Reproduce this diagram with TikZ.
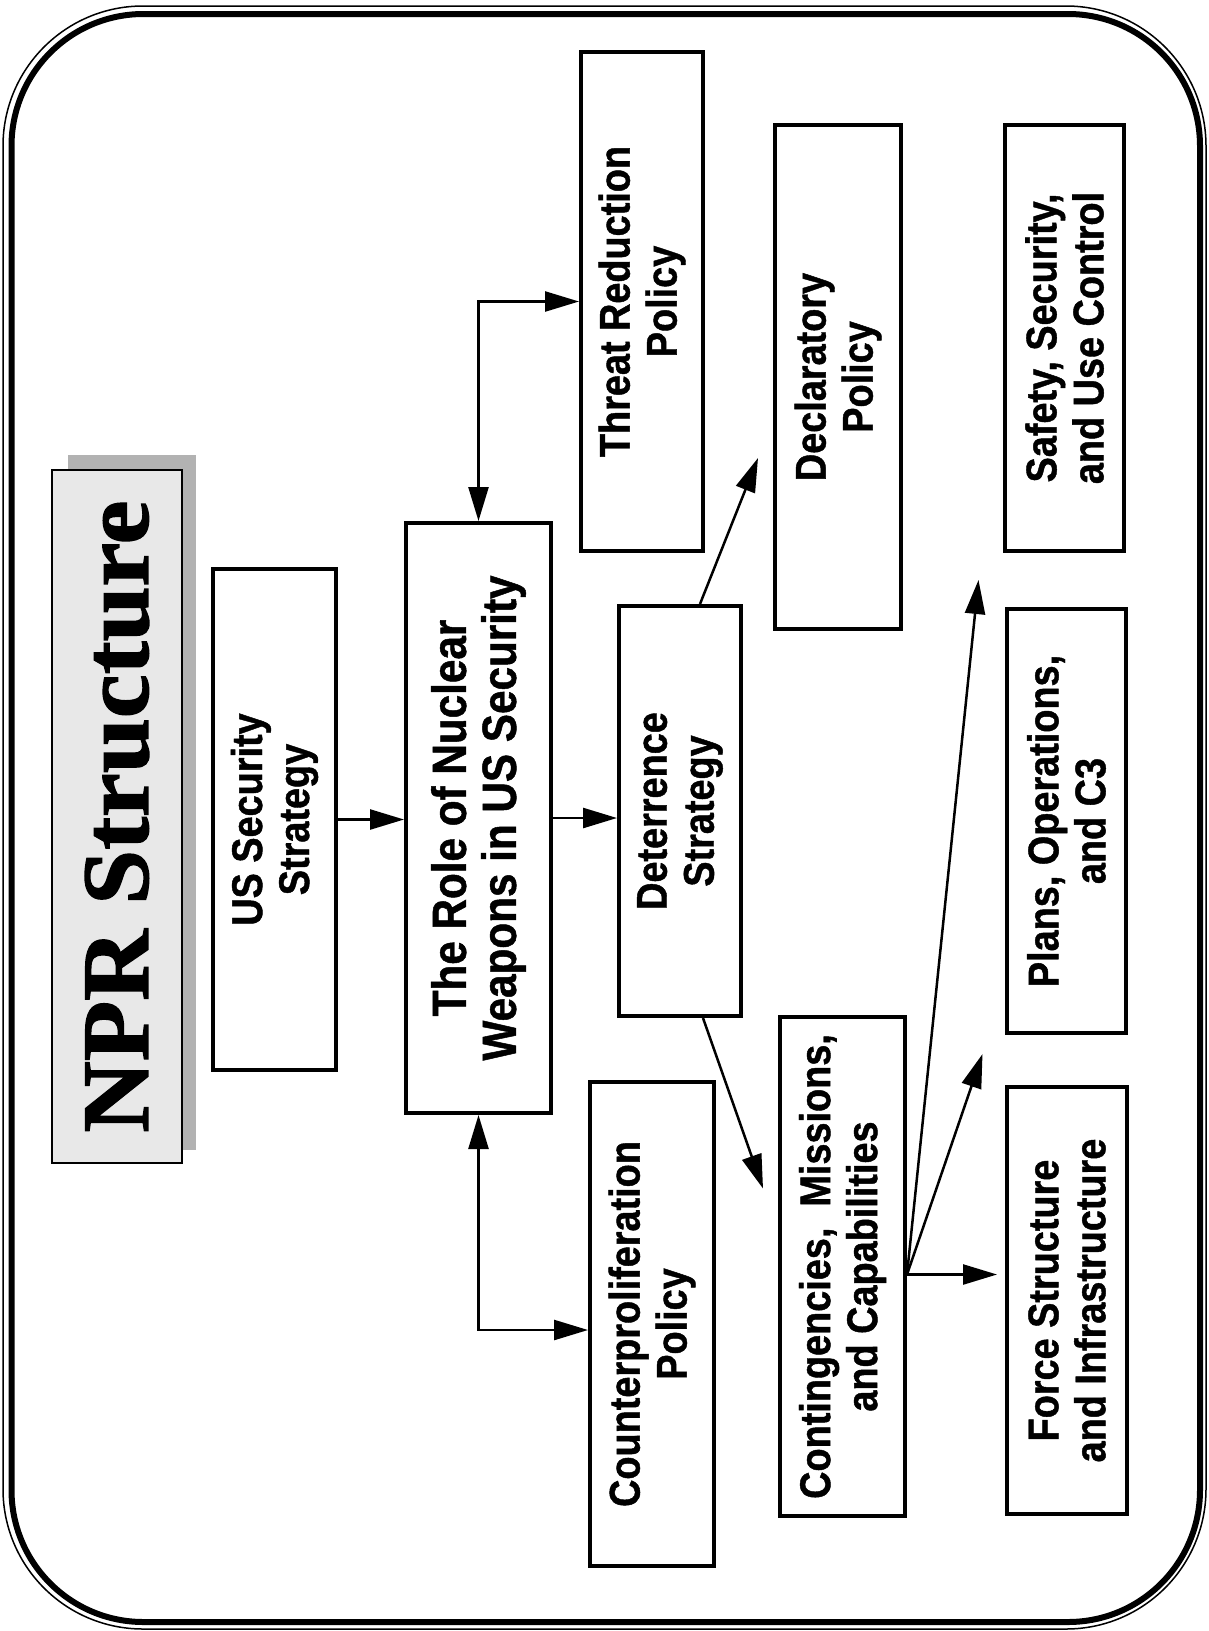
\documentclass[tikz,border=0pt]{standalone}
\usepackage{fontspec}
\newfontfamily\boxfont{Liberation Sans Bold}[FakeStretch=0.88,FakeBold=1]
\newfontfamily\titlefont{Liberation Serif Bold}[FakeStretch=1.04,FakeBold=1.5]
\usetikzlibrary{arrows.meta}

\begin{document}
\begin{tikzpicture}[x=1pt,y=-1pt,
		box/.style={draw,line width=4pt,fill=white,rotate=90,align=center,inner sep=0pt,
			font=\boxfont\fontsize{43}{47}\selectfont},
		arr/.style={line width=2.5pt,-{Triangle[length=34pt,width=20pt]}},
		darr/.style={line width=2.5pt,{Triangle[length=34pt,width=20pt]}-{Triangle[length=34pt,width=20pt]}}]
				\useasboundingbox (0,0) rectangle (1208,1631);
				% frame
				\draw[line width=1.5pt,rounded corners=140pt] (3,6) rectangle (1206,1629);
				\draw[line width=6pt,rounded corners=132pt] (11.5,14) rectangle (1200,1622);

				% title
				\node[fill=gray!60,rotate=90,minimum width=695pt,minimum height=128pt] (tshadow) at (132,802) {};
				\node[draw,line width=1.5pt,fill=gray!18,rotate=90,minimum width=693pt,minimum height=130pt,
					font=\titlefont\fontsize{95}{100}\selectfont] (title) at (117,816.5) {NPR Structure};

				\node[box,minimum width=501pt,minimum height=123pt] (uss) at (274.5,819.5) {US Security\\Strategy};
				\node[box,minimum width=590pt,minimum height=145pt,font=\boxfont\fontsize{48}{50}\selectfont] (role) at (478.5,818) {The Role of Nuclear\\Weapons in US Security};
				\node[box,minimum width=499pt,minimum height=122pt] (threat) at (642,301.5) {Threat Reduction\\Policy};
				\node[box,minimum width=484pt,minimum height=124pt] (counter) at (652,1324) {Counterproliferation\\Policy};
				\node[box,minimum width=410pt,minimum height=122pt] (deter) at (680,811) {Deterrence\\Strategy};
				\node[box,minimum width=504pt,minimum height=126pt] (decl) at (838,377) {Declaratory\\Policy};
				\node[box,minimum width=499pt,minimum height=125pt] (cont) at (842.5,1266.5) {Contingencies,\ \ Missions,\\and Capabilities};
				\node[box,minimum width=426pt,minimum height=119pt] (safety) at (1064.5,338) {Safety,\ Security,\\and Use Control};
				\node[box,minimum width=424pt,minimum height=119pt] (plans) at (1066.5,821) {Plans, Operations,\\and C3};
				\node[box,minimum width=427pt,minimum height=120pt] (force) at (1067,1300.5) {Force Structure\\and Infrastructure};

				\draw[arr] (uss.south) -- (uss.south -| role.north);
				\draw[arr] (role.south) -- (role.south -| deter.north);
				\draw[darr] (role.east) |- (threat.north);
				\draw[darr] (role.west) |- ([yshift=-6pt]counter.north);
				\draw[arr] ([xshift=20pt]deter.east) -- ([xshift=-15pt,yshift=-81pt]decl.north);
				\draw[arr] ([xshift=23pt]deter.west) -- ([xshift=-15pt,yshift=78pt]cont.north);

				\coordinate (hub) at ([yshift=-8pt]cont.south);
				\draw[arr] (hub) -- ([xshift=-8pt]hub -| force.north);
				\draw[arr] (hub) -- ([xshift=-84pt,yshift=-19pt]plans.west);
				\draw[arr] (hub) -- ([xshift=-86pt,yshift=-27pt]safety.west);

		\end{tikzpicture}
\end{document}
